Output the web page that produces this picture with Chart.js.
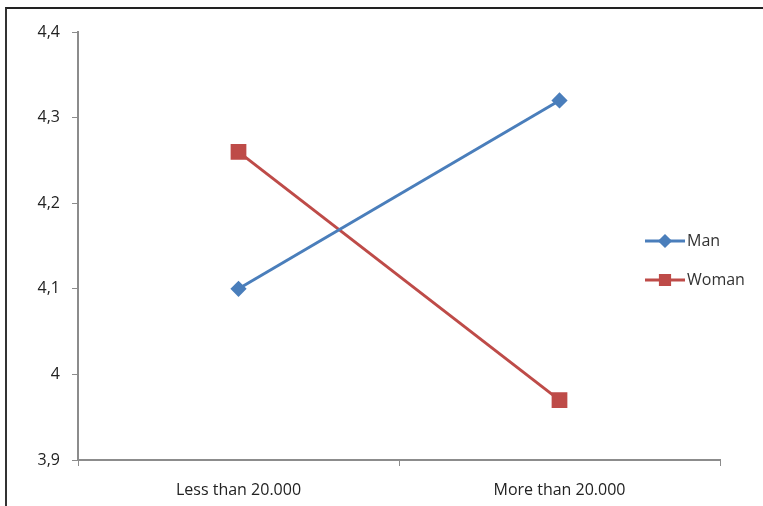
<!DOCTYPE html>
<html>
<head>
<meta charset="utf-8">
<script src="https://cdn.jsdelivr.net/npm/chart.js@4/dist/chart.umd.min.js"></script>
<style>
  html, body { margin: 0; padding: 0; background: #fff; }
  #wrap { position: relative; width: 763px; height: 506px; }
  #frame { position: absolute; left: 5px; top: 7px; right: 0; bottom: 0;
           border-top: 2px solid #222; border-left: 2px solid #333; pointer-events: none; }
  canvas { display: block; }
</style>
</head>
<body>
<div id="wrap">
  <canvas id="c" width="763" height="506"></canvas>
  <div id="frame"></div>
</div>
<script>
const categories = ['Less than 20.000', 'More than 20.000'];
const manValues = [4.10, 4.32];
const womanValues = [4.26, 3.97];
const yTickLabels = ['3,9', '4', '4,1', '4,2', '4,3', '4,4'];
const seriesNames = ['Man', 'Woman'];

const FONT = '"Open Sans", "Noto Sans", sans-serif';

const legendPlugin = {
  id: 'sideLegend',
  afterDraw(chart) {
    const ctx = chart.ctx;
    const rows = [241, 280];
    const legendRadius = [5, 6.5];
    chart.data.datasets.forEach((ds, i) => {
      const y = rows[i];
      ctx.save();
      ctx.strokeStyle = ds.borderColor;
      ctx.lineWidth = 3;
      ctx.beginPath();
      ctx.moveTo(645, y);
      ctx.lineTo(685, y);
      ctx.stroke();
      ctx.fillStyle = ds.pointBackgroundColor;
      ctx.strokeStyle = ds.pointBorderColor;
      Chart.helpers.drawPoint(ctx, {
        pointStyle: ds.pointStyle,
        radius: legendRadius[i],
        borderWidth: 1
      }, 665, y);
      ctx.fillStyle = '#333';
      ctx.font = '16px ' + FONT;
      ctx.textBaseline = 'middle';
      ctx.textAlign = 'left';
      ctx.fillText(ds.label, 687, y);
      ctx.restore();
    });
  }
};

new Chart(document.getElementById('c'), {
  type: 'line',
  data: {
    labels: categories,
    datasets: [
      {
        label: seriesNames[0],
        data: manValues,
        borderColor: '#4A7EBB',
        backgroundColor: '#4A7EBB',
        pointBackgroundColor: '#4A7EBB',
        pointBorderColor: '#4A7EBB',
        borderWidth: 3,
        pointStyle: 'rectRot',
        pointRadius: 6,
        pointHoverRadius: 6,
        tension: 0
      },
      {
        label: seriesNames[1],
        data: womanValues,
        borderColor: '#BE4B48',
        backgroundColor: '#BE4B48',
        pointBackgroundColor: '#BE4B48',
        pointBorderColor: '#BE4B48',
        borderWidth: 3,
        pointStyle: 'rect',
        pointRadius: 9,
        pointHoverRadius: 9,
        tension: 0
      }
    ]
  },
  options: {
    responsive: false,
    animation: false,
    events: [],
    layout: { padding: { top: 32, right: 43, left: 0, bottom: 0 } },
    plugins: {
      legend: { display: false },
      tooltip: { enabled: false },
      title: { display: false }
    },
    scales: {
      x: {
        type: 'category',
        offset: true,
        grid: {
          offset: true,
          drawOnChartArea: false,
          drawTicks: true,
          tickLength: 6,
          color: '#8c8c8c',
          lineWidth: 1
        },
        border: { color: '#8c8c8c', width: 2 },
        ticks: {
          color: '#222',
          font: { family: FONT, size: 16 },
          padding: 15,
          maxRotation: 0
        },
        afterFit(scale) { scale.height = 46; }
      },
      y: {
        min: 3.9,
        max: 4.4,
        grid: {
          drawOnChartArea: false,
          drawTicks: true,
          tickLength: 6,
          color: '#8c8c8c',
          lineWidth: 1
        },
        border: { color: '#8c8c8c', width: 2 },
        ticks: {
          stepSize: 0.1,
          color: '#222',
          font: { family: FONT, size: 16 },
          padding: 12,
          callback: (v, i) => yTickLabels[i]
        },
        afterFit(scale) { scale.width = 78; }
      }
    }
  },
  plugins: [legendPlugin]
});
</script>
</body>
</html>
